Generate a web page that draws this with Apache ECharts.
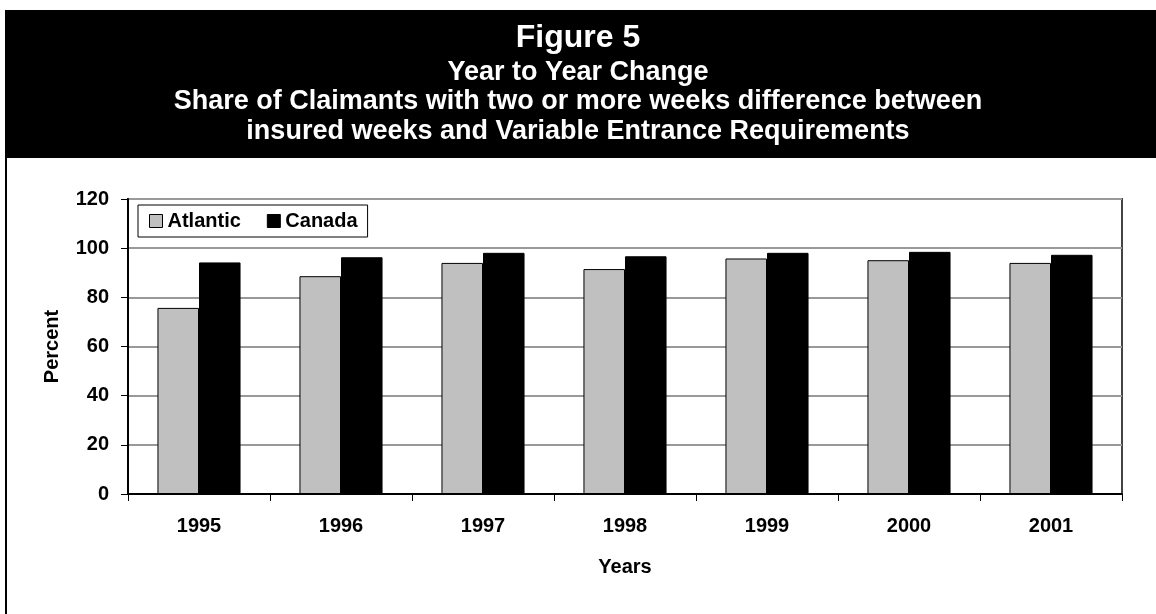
<!DOCTYPE html>
<html>
<head>
<meta charset="utf-8">
<script src="https://cdn.jsdelivr.net/npm/echarts@6/dist/echarts.min.js"></script>
<style>
  html, body { margin: 0; padding: 0; background: #fff; }
  #chart { width: 1156px; height: 614px; }
</style>
</head>
<body>
<div id="chart"></div>
<script>
// values
const years = ['1995', '1996', '1997', '1998', '1999', '2000', '2001'];
const atlantic = [75.7, 88.6, 94.0, 91.5, 95.8, 95.1, 94.0];
const canada = [94.2, 96.3, 98.1, 96.7, 98.1, 98.5, 97.3];
const yTicks = { min: 0, max: 120, interval: 20 };

const titleLines = [
    'Year to Year Change',
    'Share of Claimants with two or more weeks difference between',
    'insured weeks and Variable Entrance Requirements'
];

const font = "'Liberation Sans', Arial, sans-serif";

const chart = echarts.init(document.getElementById('chart'));

// one title item per line so every line is centred
const titles = [{
    text: 'Figure 5',
    left: 'center',
    top: 22,
    padding: 0,
    textStyle: { color: '#fff', fontFamily: font, fontWeight: 'bold', fontSize: 32 }
}];
titleLines.forEach((t, i) => {
    titles.push({
        text: t,
        left: 'center',
        top: [59, 88, 118][i],
        padding: 0,
        textStyle: { color: '#fff', fontFamily: font, fontWeight: 'bold', fontSize: 27 }
    });
});

const option = {
    backgroundColor: '#fff',
    animation: false,
    graphic: [
        // black banner behind the titles
        { type: 'rect', z: -1, shape: { x: 5, y: 10, width: 1151, height: 148 }, style: { fill: '#000' } },
        // left frame line
        { type: 'line', shape: { x1: 6, y1: 158, x2: 6, y2: 614 }, style: { stroke: '#000', lineWidth: 2 } }
    ],
    title: titles,
    legend: {
        left: 138,
        top: 205,
        orient: 'horizontal',
        padding: [6, 10, 6, 11],
        itemWidth: 13,
        itemHeight: 13,
        itemGap: 26,
        borderColor: '#000',
        borderWidth: 1,
        backgroundColor: '#fff',
        icon: 'rect',
        itemStyle: { borderColor: '#000', borderWidth: 1 },
        textStyle: { fontFamily: font, fontWeight: 'bold', fontSize: 20, color: '#000' },
        data: ['Atlantic', 'Canada']
    },
    grid: {
        left: 128,
        right: 34,
        top: 199,
        bottom: 120,
        show: true,
        borderColor: '#444',
        borderWidth: 2
    },
    xAxis: {
        type: 'category',
        data: years,
        name: 'Years',
        nameLocation: 'middle',
        nameGap: 63,
        nameTextStyle: { fontFamily: font, fontWeight: 'bold', fontSize: 20, color: '#000' },
        axisLine: { lineStyle: { color: '#000', width: 2 } },
        axisTick: { show: true, length: 7, lineStyle: { color: '#000', width: 1 } },
        axisLabel: { margin: 22, fontFamily: font, fontWeight: 'bold', fontSize: 20, color: '#000' }
    },
    yAxis: {
        type: 'value',
        min: yTicks.min,
        max: yTicks.max,
        interval: yTicks.interval,
        name: 'Percent',
        nameLocation: 'middle',
        nameRotate: 90,
        nameGap: 66,
        nameTextStyle: { fontFamily: font, fontWeight: 'bold', fontSize: 20, color: '#000' },
        axisLine: { show: true, lineStyle: { color: '#000', width: 2 } },
        axisTick: { show: true, length: 7, lineStyle: { color: '#000', width: 1 } },
        axisLabel: { margin: 19, fontFamily: font, fontWeight: 'bold', fontSize: 20, color: '#000' },
        splitLine: { show: true, lineStyle: { color: '#999', width: 2 } }
    },
    series: [
        {
            name: 'Atlantic',
            type: 'bar',
            data: atlantic,
            barGap: '0%',
            barCategoryGap: '41.5%',
            itemStyle: { color: '#c0c0c0', borderColor: '#000', borderWidth: 1 }
        },
        {
            name: 'Canada',
            type: 'bar',
            data: canada,
            barGap: '0%',
            barCategoryGap: '41.5%',
            itemStyle: { color: '#000', borderColor: '#000', borderWidth: 1 }
        }
    ]
};

chart.setOption(option);
</script>
</body>
</html>
